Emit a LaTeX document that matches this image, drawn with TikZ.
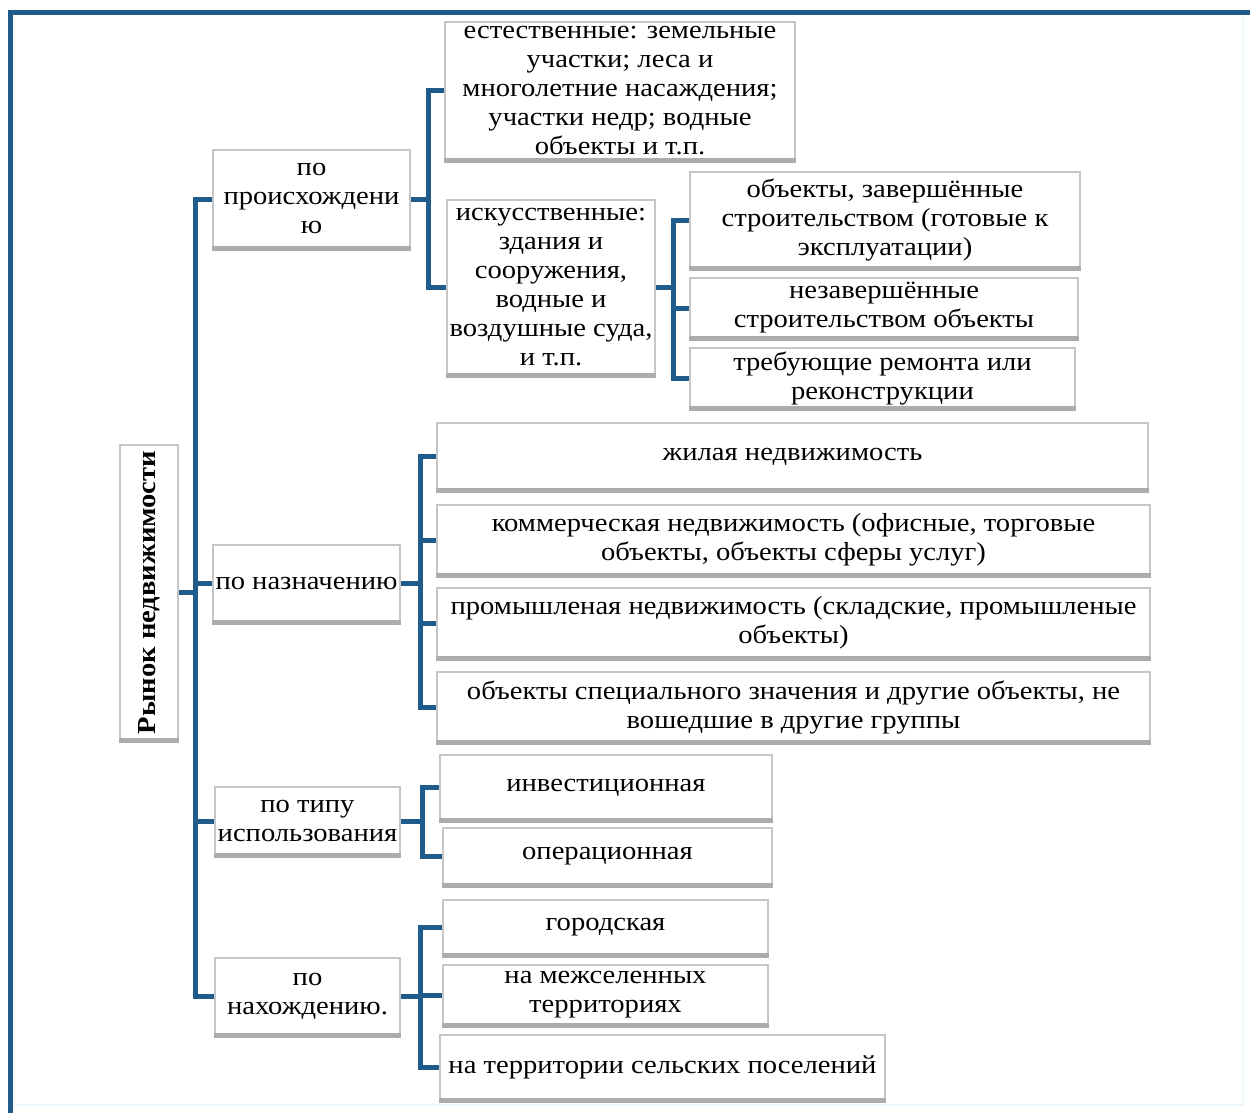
\documentclass[tikz,border=0pt]{standalone}
\usepackage{fontspec}
\setmainfont{Liberation Serif}[FakeStretch=1.1]
\usepackage{graphicx}
\definecolor{lnk}{HTML}{1F5C8C}
\tikzset{
  box/.style={draw=gray!45, line width=1.2pt, fill=white, align=center, inner sep=0pt,
    font=\fontsize{26}{29}\selectfont,
    append after command={(\tikzlastnode.south west) edge[draw=gray!65, line width=4.5pt] (\tikzlastnode.south east)}},
  link/.style={draw=lnk, line width=5pt},
  frame/.style={draw=lnk, line width=5pt},
}
\begin{document}
\begin{tikzpicture}[x=1pt,y=-1pt]
\useasboundingbox (0,0) rectangle (1253,1113);
\draw[frame] (8,13) -- (1250,13);
\draw[frame] (10,11) -- (10,1113);
\draw[cyan!8, line width=2pt] (1243,16) -- (1243,1105) -- (14,1105);

% root
\node[box, minimum width=58, minimum height=295] (root) at (149,592.5) {\rotatebox{90}{\bfseries Рынок недвижимости}};

% groups
\node[box, minimum width=197, minimum height=98] (g1) at (311.5,199) {по\\происхождени\\ю};
\node[box, minimum width=187, minimum height=77] (g2) at (306.5,583.5) {по назначению};
\node[box, minimum width=185, minimum height=68] (g3) at (307.5,821) {по типу\\использования};
\node[box, minimum width=185, minimum height=77] (g4) at (307.5,996.5) {по\\нахождению.};

% origin
\node[box, minimum width=350, minimum height=138] (nat) at (620,91) {естественные: земельные\\участки; леса и\\многолетние насаждения;\\участки недр; водные\\объекты и т.п.};
\node[box, minimum width=208, minimum height=175] (art) at (551,287.5) {искусственные:\\здания и\\сооружения,\\водные и\\воздушные суда,\\и т.п.};
\node[box, minimum width=390, minimum height=96] (o1) at (885,220) {объекты, завершённые\\строительством (готовые к\\эксплуатации)};
\node[box, minimum width=388, minimum height=60] (o2) at (884,308) {незавершённые\\строительством объекты};
\node[box, minimum width=385, minimum height=60] (o3) at (882.5,378) {требующие ремонта или\\реконструкции};

% purpose
\node[box, minimum width=711, minimum height=67] (u1) at (792.5,456.5) {жилая недвижимость};
\node[box, minimum width=713, minimum height=70] (u2) at (793.5,540) {коммерческая недвижимость (офисные, торговые\\объекты, объекты сферы услуг)};
\node[box, minimum width=713, minimum height=70] (u3) at (793.5,623) {промышленая недвижимость (складские, промышленые\\объекты)};
\node[box, minimum width=713, minimum height=70] (u4) at (793.5,707) {объекты специального значения и другие объекты, не\\вошедшие в другие группы};

% use type
\node[box, minimum width=332, minimum height=65] (t1) at (606,787.5) {инвестиционная};
\node[box, minimum width=329, minimum height=57] (t2) at (607.5,856.5) {операционная};

% location
\node[box, minimum width=325, minimum height=55] (l1) at (605.5,927.5) {городская};
\node[box, minimum width=325, minimum height=60] (l2) at (605.5,995) {на межселенных\\территориях};
\node[box, minimum width=445, minimum height=65] (l3) at (662.5,1067.5) {на территории сельских поселений};

% spines
\coordinate (s0) at (195,592.5);
\coordinate (s1) at (428,199);
\coordinate (s2) at (673,287.5);
\coordinate (s3) at (420,583.5);
\coordinate (s4) at (422,821);
\coordinate (s5) at (420,996.5);

\draw[link] (root.east) -- (s0);
\foreach \g in {g1,g2,g3,g4} \draw[link] (s0) |- (\g.west);

\draw[link] (g1.east) -- (s1);
\foreach \c in {nat,art} \draw[link] (s1) |- (\c.west);

\draw[link] (art.east) -- (s2);
\foreach \c in {o1,o2,o3} \draw[link] (s2) |- (\c.west);

\draw[link] (g2.east) -- (s3);
\foreach \c in {u1,u2,u3,u4} \draw[link] (s3) |- (\c.west);

\draw[link] (g3.east) -- (s4);
\foreach \c in {t1,t2} \draw[link] (s4) |- (\c.west);

\draw[link] (g4.east) -- (s5);
\foreach \c in {l1,l2,l3} \draw[link] (s5) |- (\c.west);
\end{tikzpicture}
\end{document}
